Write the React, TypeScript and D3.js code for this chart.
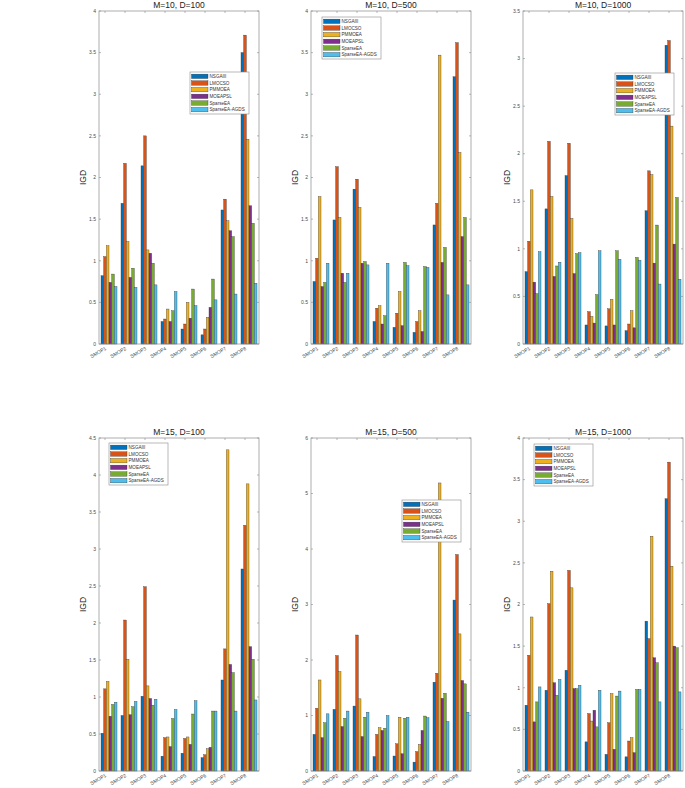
import { useEffect } from 'react';
import * as d3 from 'd3';

const problems = ['SMOP1', 'SMOP2', 'SMOP3', 'SMOP4', 'SMOP5', 'SMOP6', 'SMOP7', 'SMOP8'];
const algorithms = ['NSGAIII', 'LMOCSO', 'PMMOEA', 'MOEAPSL', 'SparseEA', 'SparseEA-AGDS'];
const colors = ['#0072BD', '#D95319', '#EDB120', '#7E2F8E', '#77AC30', '#4DBEEE'];

// one row per problem, one column per algorithm (IGD)
const igdM10D100 = [
  [0.82, 1.05, 1.18, 0.74, 0.84, 0.69],
  [1.69, 2.17, 1.23, 0.8, 0.91, 0.68],
  [2.14, 2.5, 1.13, 1.09, 0.97, 0.71],
  [0.27, 0.3, 0.42, 0.27, 0.4, 0.63],
  [0.18, 0.24, 0.5, 0.31, 0.66, 0.46],
  [0.11, 0.18, 0.32, 0.44, 0.78, 0.53],
  [1.61, 1.74, 1.48, 1.36, 1.29, 0.6],
  [3.5, 3.71, 2.46, 1.66, 1.45, 0.73],
];
const igdM10D500 = [
  [0.75, 1.03, 1.77, 0.69, 0.74, 0.97],
  [1.49, 2.13, 1.52, 0.85, 0.74, 0.85],
  [1.86, 1.98, 1.64, 0.97, 0.99, 0.95],
  [0.27, 0.43, 0.46, 0.24, 0.34, 0.97],
  [0.2, 0.37, 0.63, 0.22, 0.98, 0.94],
  [0.14, 0.27, 0.4, 0.15, 0.93, 0.92],
  [1.43, 1.69, 3.47, 0.98, 1.16, 0.59],
  [3.21, 3.62, 2.3, 1.29, 1.52, 0.71],
];
const igdM10D1000 = [
  [0.76, 1.08, 1.62, 0.65, 0.53, 0.97],
  [1.42, 2.13, 1.55, 0.71, 0.82, 0.86],
  [1.77, 2.11, 1.32, 0.74, 0.95, 0.96],
  [0.2, 0.34, 0.29, 0.22, 0.52, 0.98],
  [0.19, 0.37, 0.47, 0.2, 0.98, 0.89],
  [0.14, 0.21, 0.35, 0.17, 0.91, 0.88],
  [1.4, 1.82, 1.78, 0.85, 1.25, 0.63],
  [3.14, 3.19, 2.29, 1.05, 1.54, 0.68],
];
const igdM15D100 = [
  [0.51, 1.11, 1.21, 0.74, 0.9, 0.93],
  [0.75, 2.04, 1.51, 0.76, 0.87, 0.94],
  [1.01, 2.49, 1.15, 0.98, 0.89, 0.97],
  [0.2, 0.45, 0.46, 0.33, 0.71, 0.83],
  [0.24, 0.44, 0.46, 0.36, 0.77, 0.95],
  [0.18, 0.22, 0.3, 0.32, 0.81, 0.81],
  [1.23, 1.65, 4.34, 1.44, 1.33, 0.81],
  [2.73, 3.32, 3.88, 1.68, 1.51, 0.96],
];
const igdM15D500 = [
  [0.66, 1.13, 1.64, 0.6, 0.87, 1.03],
  [1.11, 2.08, 1.79, 0.8, 0.95, 1.08],
  [1.17, 2.45, 1.3, 0.62, 0.97, 1.06],
  [0.26, 0.66, 0.78, 0.73, 0.77, 1.0],
  [0.27, 0.49, 0.97, 0.31, 0.95, 0.97],
  [0.16, 0.35, 0.48, 0.73, 0.99, 0.96],
  [1.6, 1.76, 5.19, 1.31, 1.4, 0.89],
  [3.08, 3.9, 2.47, 1.63, 1.57, 1.06],
];
const igdM15D1000 = [
  [0.79, 1.39, 1.85, 0.59, 0.83, 1.01],
  [0.97, 2.01, 2.4, 1.06, 0.91, 1.1],
  [1.21, 2.41, 2.2, 0.99, 0.99, 1.03],
  [0.35, 0.69, 0.6, 0.73, 0.53, 0.97],
  [0.2, 0.58, 0.93, 0.26, 0.9, 0.96],
  [0.17, 0.36, 0.4, 0.22, 0.98, 0.98],
  [1.8, 1.59, 2.82, 1.36, 1.3, 0.83],
  [3.27, 3.71, 2.46, 1.5, 1.48, 0.95],
];

const titles = ['M=10, D=100', 'M=10, D=500', 'M=10, D=1000', 'M=15, D=100', 'M=15, D=500', 'M=15, D=1000'];
const yMaxes = [4, 4, 3.5, 4.5, 6, 4];
const yTickSteps = [0.5, 0.5, 0.5, 0.5, 1, 0.5];
const panelData = [igdM10D100, igdM10D500, igdM10D1000, igdM15D100, igdM15D500, igdM15D1000];

// layout (pixels)
const W = 685;
const H = 788;
const colX = [99, 311, 523];
const rowY = [11, 438];
const plotW = 160;
const plotH = 333;
const legendPos = [
  [91, 61],
  [11, 6],
  [92, 62],
  [10, 5],
  [91, 62],
  [11, 6],
];
const legendW = 59;
const legendH = 42;

const axisColor = '#8a8a8a';
const labelColor = '#4a4a4a';
const font = '"Liberation Sans", Arial, Helvetica, sans-serif';

function Panel({ idx }: { idx: number }) {
  const data = panelData[idx];
  const x0 = colX[idx % 3];
  const y0 = rowY[Math.floor(idx / 3)];

  const x = d3.scaleLinear().domain([0.5, problems.length + 0.5]).range([0, plotW]);
  const y = d3.scaleLinear().domain([0, yMaxes[idx]]).range([plotH, 0]);
  const groupW = 0.8;
  const barW = groupW / algorithms.length;

  const yTicks = d3.range(0, yMaxes[idx] + 1e-9, yTickSteps[idx]);
  const tickShift = -4; // labels/ticks sit a bit left of group centre in the source

  const [lx, ly] = legendPos[idx];

  return (
    <g transform={`translate(${x0},${y0})`} fontFamily={font}>
      {/* bars */}
      {data.map((row, i) =>
        row.map((v, j) => {
          const left = x(i + 1 - groupW / 2 + j * barW);
          const right = x(i + 1 - groupW / 2 + (j + 1) * barW);
          return (
            <rect
              key={`${i}-${j}`}
              x={left}
              y={y(v)}
              width={right - left}
              height={plotH - y(v)}
              fill={colors[j]}
              stroke="#333"
              strokeWidth={0.35}
            />
          );
        })
      )}

      {/* box */}
      <rect x={0} y={0} width={plotW} height={plotH} fill="none" stroke={axisColor} strokeWidth={0.7} />

      {/* y ticks */}
      {yTicks.map((t) => (
        <g key={t} transform={`translate(0,${y(t)})`}>
          <line x1={0} x2={2} stroke={axisColor} strokeWidth={0.6} />
          <line x1={plotW - 2} x2={plotW} stroke={axisColor} strokeWidth={0.6} />
          <text x={-3} dy="0.35em" fontSize={5} textAnchor="end" fill={labelColor}>
            {d3.format('~g')(+t.toFixed(2))}
          </text>
        </g>
      ))}

      {/* x ticks */}
      {problems.map((p, i) => {
        const tx = x(i + 1) + tickShift;
        return (
          <g key={p}>
            <line x1={tx} x2={tx} y1={plotH} y2={plotH - 2} stroke={axisColor} strokeWidth={0.6} />
            <line x1={tx} x2={tx} y1={0} y2={2} stroke={axisColor} strokeWidth={0.6} />
            <text
              transform={`translate(${tx},${plotH + 2.5}) rotate(-30)`}
              fontSize={5}
              textAnchor="end"
              dy="0.7em"
              fill={labelColor}
            >
              {p}
            </text>
          </g>
        );
      })}

      {/* title */}
      <text x={plotW / 2} y={-3} fontSize={8.5} textAnchor="middle" fill="#222">
        {titles[idx]}
      </text>

      {/* y label */}
      <text
        transform={`translate(${-13},${plotH / 2}) rotate(-90)`}
        fontSize={8.5}
        textAnchor="middle"
        fill="#222"
      >
        IGD
      </text>

      {/* legend */}
      <g transform={`translate(${lx},${ly})`}>
        <rect x={0} y={0} width={legendW} height={legendH} fill="#fff" stroke="#8a8a8a" strokeWidth={0.6} />
        {algorithms.map((a, j) => {
          const rowH = (legendH - 2) / algorithms.length;
          const cy = 1 + rowH * (j + 0.5);
          return (
            <g key={a}>
              <rect x={1.5} y={cy - 2.2} width={16.5} height={4.4} fill={colors[j]} stroke="#333" strokeWidth={0.35} />
              <text x={19.5} y={cy} dy="0.35em" fontSize={4.6} fill="#333">
                {a}
              </text>
            </g>
          );
        })}
      </g>
    </g>
  );
}

export default function App() {
  useEffect(() => {
    document.body.style.margin = '0';
  }, []);
  return (
    <svg width={W} height={H} style={{ display: 'block', background: '#fff' }}>
      {panelData.map((_, i) => (
        <Panel key={i} idx={i} />
      ))}
    </svg>
  );
}
